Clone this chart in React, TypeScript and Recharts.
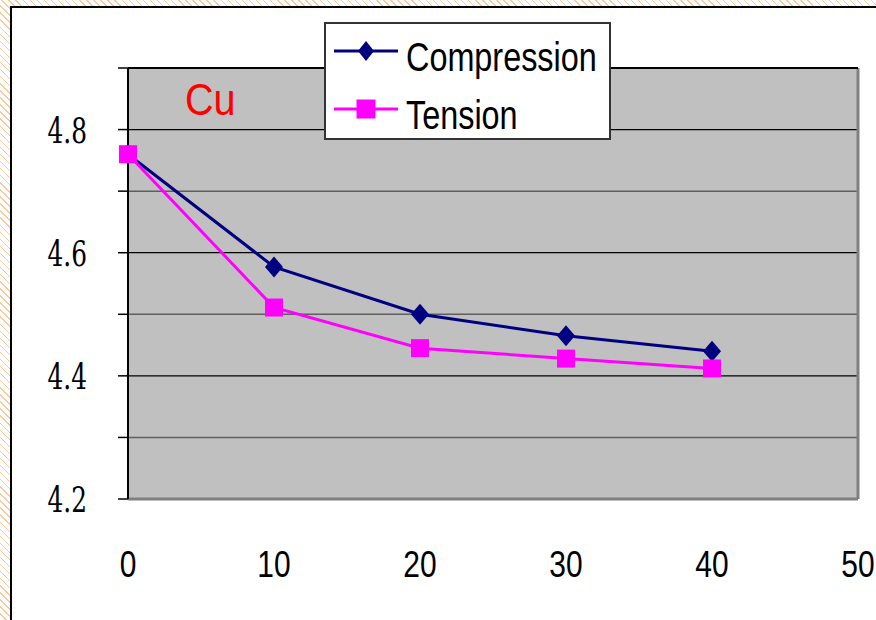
import React from "react";
import {
  LineChart,
  Line,
  XAxis,
  YAxis,
  ReferenceLine,
  ReferenceArea,
  Legend,
} from "recharts";

// strain (%) on x, lattice value on y
const strain = [0, 10, 20, 30, 40];
const compression = [4.76, 4.577, 4.5, 4.465, 4.44];
const tension = [4.76, 4.511, 4.445, 4.428, 4.412];

const xTicks = [0, 10, 20, 30, 40, 50];
const yTicks = [4.2, 4.3, 4.4, 4.5, 4.6, 4.7, 4.8, 4.9];
const majorGrid = [4.4, 4.6, 4.8];
const minorGrid = [4.3, 4.5, 4.7];

const data = strain.map((s, i) => ({
  strain: s,
  compression: compression[i],
  tension: tension[i],
}));

const SANS = "'Liberation Sans', Arial, sans-serif";
const SERIF = "'DejaVu Serif', serif";
const SQUEEZE = 0.81;

const Diamond = ({ cx, cy, fill, w = 9, h = 10.5 }: any) => (
  <path
    d={`M${cx},${cy - h}L${cx + w},${cy}L${cx},${cy + h}L${cx - w},${cy}Z`}
    fill={fill}
  />
);

const Square = ({ cx, cy, fill, s = 9 }: any) => (
  <rect x={cx - s} y={cy - s} width={s * 2} height={s * 2} fill={fill} />
);

// labels only on every other tick (4.2, 4.4, ...)
const YTick = ({ x, y, payload }: any) => {
  const v = payload.value;
  if (Math.round(v * 10) % 2 !== 0) return <g />;
  return (
    <g transform={`translate(${x - 31},${y + 13})`}>
      <text
        transform="scale(0.69,1)"
        textAnchor="end"
        fontFamily={SERIF}
        fontSize={36}
        fill="#000"
      >
        {v.toFixed(1)}
      </text>
    </g>
  );
};

const XTick = ({ x, y, payload }: any) => (
  <text
    transform={`translate(${x},${y + 78}) scale(${SQUEEZE},1)`}
    textAnchor="middle"
    style={{ fontFamily: SANS, fontSize: 37 }}
    fill="#000"
  >
    {payload.value}
  </text>
);

const LegendBox = ({ payload }: any) => (
  <svg width={287} height={118} style={{ display: "block" }}>
    <rect x={1} y={1} width={285} height={116} fill="#fff" stroke="#333" strokeWidth={2} />
    {(payload || []).map((p: any, i: number) => {
      const cy = i === 0 ? 29 : 87;
      const base = i === 0 ? 49 : 107;
      return (
        <g key={p.value}>
          <line x1={10} x2={74} y1={cy} y2={cy} stroke={p.color} strokeWidth={3} />
          {i === 0 ? (
            <Diamond cx={42} cy={cy} fill={p.color} w={8} h={10} />
          ) : (
            <Square cx={42} cy={cy} fill={p.color} s={9.5} />
          )}
          <text
            transform={`translate(82,${base}) scale(${SQUEEZE},1)`}
            style={{ fontFamily: SANS, fontSize: 40 }}
            fill="#000"
          >
            {p.value}
          </text>
        </g>
      );
    })}
  </svg>
);

export default function App() {
  return (
    <div
      style={{
        position: "absolute",
        left: 0,
        top: 0,
        width: 876,
        height: 620,
        overflow: "hidden",
        background:
          "repeating-linear-gradient(45deg, #fff 0 4px, #f9c99c 4px 5px), #fff",
      }}
    >
      <div
        style={{
          position: "absolute",
          left: 10,
          top: 6,
          width: 900,
          height: 650,
          background: "#fff",
          borderLeft: "2px solid #000",
          borderTop: "2px solid #000",
        }}
      />
      <div style={{ position: "absolute", left: 0, top: 0 }}>
        <LineChart
          width={876}
          height={620}
          data={data}
          margin={{ top: 67, right: 18, bottom: 0, left: 0 }}
        >
          <ReferenceArea
            x1={0}
            x2={50}
            y1={4.2}
            y2={4.9}
            fill="#c0c0c0"
            fillOpacity={1}
            stroke="none"
          />
          {minorGrid.map((v) => (
            <ReferenceLine key={`mi${v}`} y={v} stroke="#5e5e5e" strokeWidth={1.5} />
          ))}
          {majorGrid.map((v) => (
            <ReferenceLine key={`ma${v}`} y={v} stroke="#000" strokeWidth={1.2} />
          ))}
          <ReferenceLine x={50} stroke="#808080" strokeWidth={3} />
          <XAxis
            dataKey="strain"
            type="number"
            orientation="top"
            domain={[0, 50]}
            ticks={xTicks}
            height={1}
            tickSize={11}
            tick={false}
            axisLine={{ stroke: "#000", strokeWidth: 2 }}
            tickLine={{ stroke: "#000", strokeWidth: 1.5 }}
          />
          <XAxis
            xAxisId="bottom"
            dataKey="strain"
            type="number"
            orientation="bottom"
            domain={[0, 50]}
            ticks={xTicks}
            height={121}
            tickSize={0}
            tickMargin={0}
            tickLine={false}
            axisLine={{ stroke: "#808080", strokeWidth: 3 }}
            tick={<XTick />}
          />
          <YAxis
            type="number"
            domain={[4.2, 4.9]}
            ticks={yTicks}
            width={128}
            tickSize={10}
            tickMargin={0}
            axisLine={{ stroke: "#000", strokeWidth: 2 }}
            tickLine={{ stroke: "#000", strokeWidth: 1.5 }}
            tick={<YTick />}
          />
          <Legend
            layout="horizontal"
            align="center"
            verticalAlign="middle"
            content={<LegendBox />}
            wrapperStyle={{ position: "absolute", left: 324, top: 22, width: 287, height: 118 }}
          />
          <Line
            name="Compression"
            dataKey="compression"
            stroke="#000080"
            strokeWidth={3}
            dot={(p: any) => <Diamond key={`c${p.index}`} cx={p.cx} cy={p.cy} fill="#000080" />}
            activeDot={false}
            isAnimationActive={false}
          />
          <Line
            name="Tension"
            dataKey="tension"
            stroke="#ff00ff"
            strokeWidth={3}
            dot={(p: any) => <Square key={`t${p.index}`} cx={p.cx} cy={p.cy} fill="#ff00ff" />}
            activeDot={false}
            isAnimationActive={false}
          />
        </LineChart>
      </div>
      <div
        style={{
          position: "absolute",
          left: 185,
          top: 76,
          fontFamily: SANS,
          fontSize: 44,
          lineHeight: "48px",
          color: "#ff0000",
          transform: "scaleX(0.9)",
          transformOrigin: "left top",
        }}
      >
        Cu
      </div>
    </div>
  );
}
